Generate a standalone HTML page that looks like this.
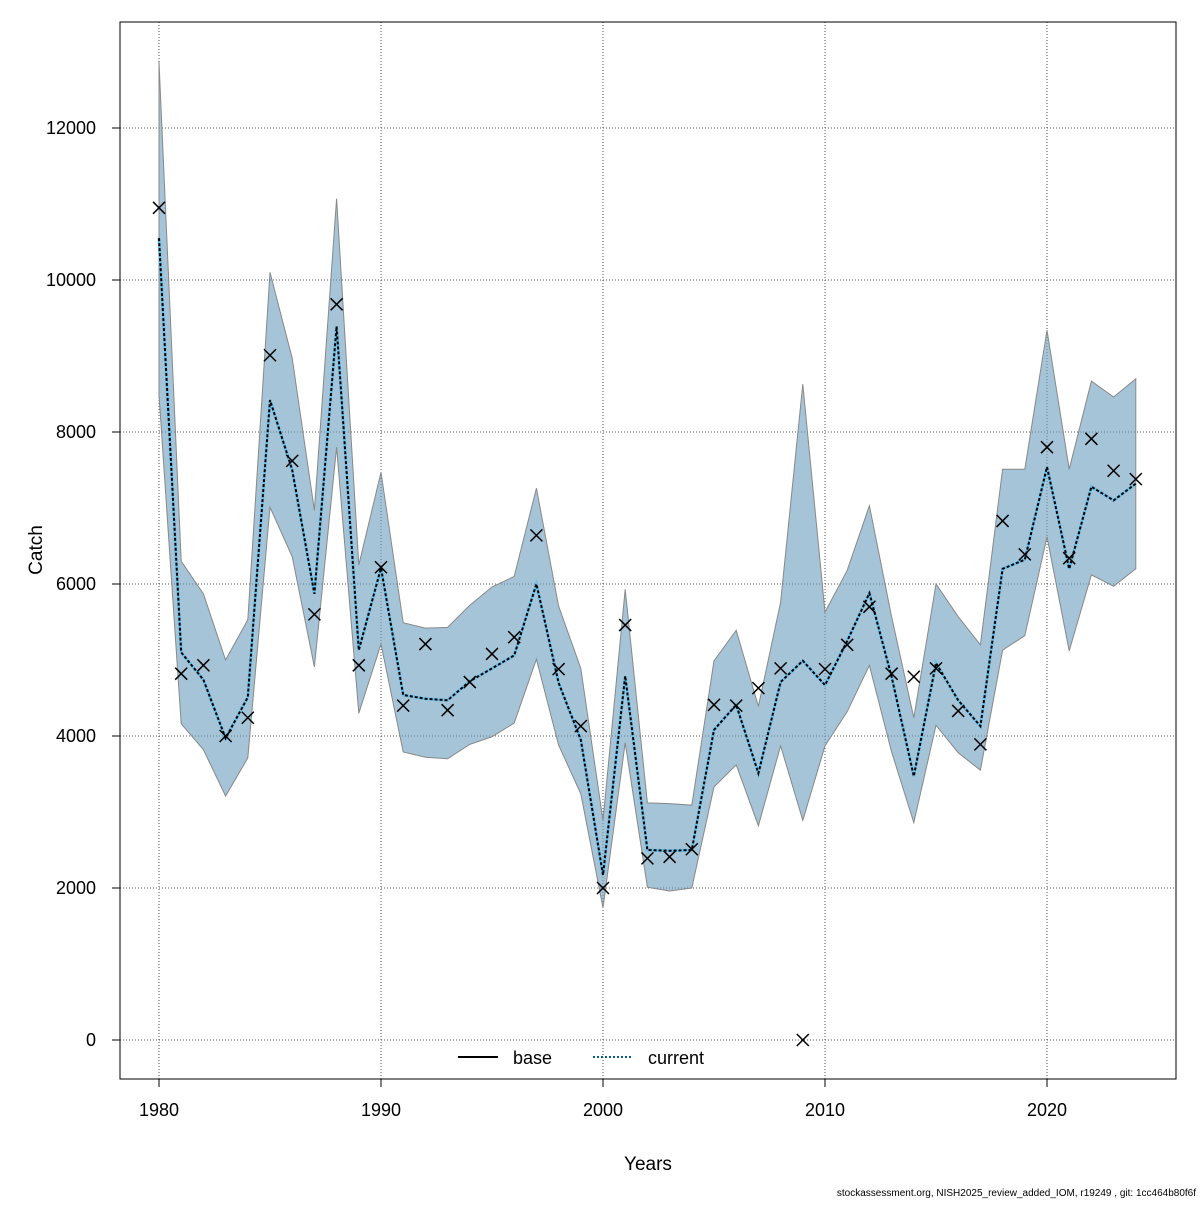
<!DOCTYPE html>
<html><head><meta charset="utf-8"><style>
body{margin:0;background:#fff;}
svg text{font-family:"Liberation Sans",sans-serif;}
</style></head><body>
<svg id="chart" width="1200" height="1200" xmlns="http://www.w3.org/2000/svg"></svg>
<script>
const years=[];for(let y=1980;y<=2024;y++)years.push(y);
const observed=[10950,4820,4930,4000,4240,9010,7620,5600,9680,4930,6220,4400,5210,4340,4710,5080,5300,6640,4880,4130,2000,5460,2390,2410,2510,4410,4400,4630,4890,0,4880,5200,5700,4820,4780,4890,4330,3890,6830,6390,7800,6340,7910,7490,7380];
const predicted=[10550,5100,4740,3970,4510,8420,7500,5870,9390,5130,6210,4540,4490,4470,4720,4890,5060,6000,4700,3950,2170,4790,2500,2490,2500,4080,4410,3510,4710,4990,4670,5250,5880,4780,3470,4960,4470,4130,6200,6320,7540,6200,7280,7100,7320];
const upper=[12870,6300,5870,5000,5530,10100,8970,6970,11070,6250,7470,5490,5420,5430,5720,5960,6100,7260,5710,4890,2890,5930,3120,3110,3090,4990,5390,4390,5760,8630,5630,6180,7030,5570,4240,6000,5570,5200,7510,7510,9340,7510,8670,8460,8700];
const lower=[8490,4160,3820,3210,3710,7010,6360,4910,7800,4300,5210,3790,3720,3700,3890,3990,4170,5010,3880,3240,1740,3910,2010,1960,2000,3330,3620,2820,3870,2890,3870,4320,4930,3790,2860,4140,3780,3550,5130,5320,6620,5120,6120,5970,6200];
const xTicks=[1980,1990,2000,2010,2020];
const yTicks=[0,2000,4000,6000,8000,10000,12000];

const svg=document.getElementById('chart');const NS='http://www.w3.org/2000/svg';
const X=v=>159+(v-1980)*22.2;
const Y=v=>1040-v*0.076;
function mk(t,a,p){const e=document.createElementNS(NS,t);for(const k in a)e.setAttribute(k,a[k]);(p||svg).appendChild(e);return e;}
xTicks.forEach(t=>{const l=mk('line',{x1:X(t),x2:X(t),y1:22,y2:1079,stroke:'#555','stroke-width':1,'stroke-dasharray':'1,2'});

});
yTicks.forEach(t=>{const l=mk('line',{x1:120,x2:1176,y1:Y(t),y2:Y(t),stroke:'#555','stroke-width':1,'stroke-dasharray':'1,2'});

});
let pts=years.map((y,i)=>X(y)+','+Y(upper[i]));
for(let i=years.length-1;i>=0;i--)pts.push(X(years[i])+','+Y(lower[i]));
const band=mk('polygon',{points:pts.join(' '),fill:'rgba(110,160,190,0.62)',stroke:'#888','stroke-width':1});


const lp=years.map((y,i)=>X(y)+','+Y(predicted[i])).join(' ');
const base=mk('polyline',{points:lp,fill:'none',stroke:'#6cc0ea','stroke-width':3});


const cur=mk('polyline',{points:lp,fill:'none',stroke:'#000','stroke-width':2,'stroke-dasharray':'3,2'});


years.forEach((y,i)=>{const cx=X(y),cy=Y(observed[i]);
const p=mk('path',{d:`M${cx-6},${cy-6}L${cx+6},${cy+6}M${cx-6},${cy+6}L${cx+6},${cy-6}`,stroke:'#000','stroke-width':1.5});

});
const fr=mk('rect',{x:120,y:22,width:1056,height:1057,fill:'none',stroke:'#000','stroke-width':1});


xTicks.forEach(t=>{mk('line',{x1:X(t),x2:X(t),y1:1079,y2:1087,stroke:'#000'});
const tx=mk('text',{x:X(t),y:1116,'text-anchor':'middle','font-size':18});tx.textContent=t;

});
yTicks.forEach(t=>{mk('line',{x1:112,x2:120,y1:Y(t),y2:Y(t),stroke:'#000'});
const tx=mk('text',{x:96,y:Y(t)+6,'text-anchor':'end','font-size':18});tx.textContent=t;

});
const xt=mk('text',{x:648,y:1170,'text-anchor':'middle','font-size':19});xt.textContent='Years';


const yt=mk('text',{x:42,y:550,'text-anchor':'middle','font-size':19,transform:'rotate(-90 42 550)'});yt.textContent='Catch';


const lg=mk('g',{});
mk('line',{x1:458,x2:498,y1:1057,y2:1057,stroke:'#000','stroke-width':2},lg);
let t1=mk('text',{x:513,y:1064,'font-size':18},lg);t1.textContent='base';


mk('line',{x1:593,x2:633,y1:1057,y2:1057,stroke:'#0a5a8a','stroke-width':2,'stroke-dasharray':'2,2'},lg);
let t2=mk('text',{x:648,y:1064,'font-size':18},lg);t2.textContent='current';


const ft=mk('text',{x:1196,y:1196,'text-anchor':'end','font-size':10});ft.textContent='stockassessment.org, NISH2025_review_added_IOM, r19249 , git: 1cc464b80f6f';


</script>
</body></html>
